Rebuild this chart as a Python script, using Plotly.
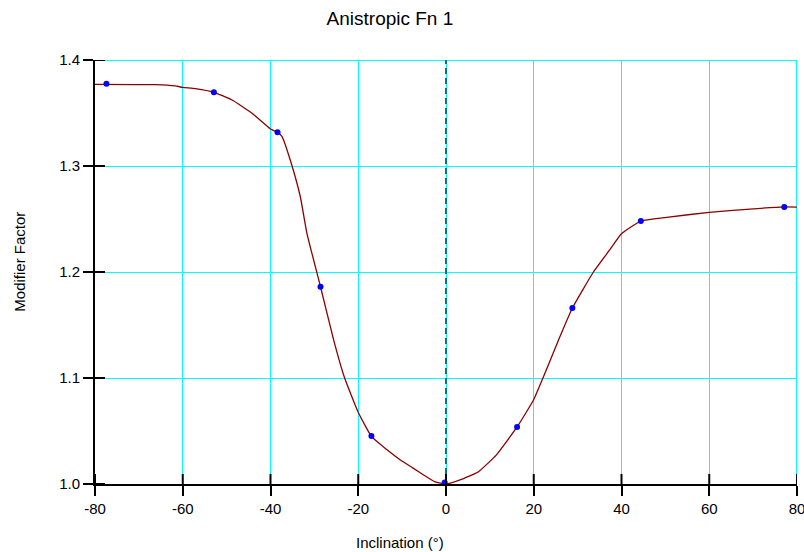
import plotly.graph_objects as go

# Measured data points (blue markers)
point_x = [-77.4, -52.9, -38.4, -28.6, -17.0, -0.3, 16.2, 28.8, 44.4, 77.1]
point_y = [1.3776, 1.3695, 1.3318, 1.1861, 1.0452, 1.0015, 1.0538, 1.1660, 1.2481, 1.2614]

# Fitted curve
curve_x = [-80, -66.2, -61.7, -60, -57.1, -52.9, -48.75, -44.2, -40.0, -38.4, -37.4,
           -35.5, -33.2, -31.7, -28.6, -25.6, -23.1, -19.9, -17.0, -13.5, -10.4, -7.5, -5.1, -2.5,
           0, 3.2, 7.4, 11.5, 16.2, 19.95, 22.1, 25.65, 28.8, 33.6, 37.3, 40, 44.4,
           50.3, 60, 69.3, 77.1, 80]
curve_y = [1.377, 1.3767, 1.3755, 1.3742, 1.373, 1.3695, 1.3623, 1.3497, 1.3349, 1.3318, 1.328,
           1.3057, 1.271, 1.2365, 1.1861, 1.1358, 1.1, 1.0667, 1.045, 1.0325, 1.0226, 1.015, 1.0085, 1.002,
           1.0, 1.0038, 1.0116, 1.0275, 1.0538, 1.0792, 1.1, 1.1358, 1.166, 1.2, 1.2208, 1.236, 1.2481,
           1.2516, 1.2563, 1.2594, 1.2614, 1.2612]

x_ticks = [-80, -60, -40, -20, 0, 20, 40, 60, 80]
x_tick_text = ["-80", "-60", "-40", "-20", "0", "20", "40", "60", "80"]
y_ticks = [1.0, 1.1, 1.2, 1.3, 1.4]
y_tick_text = ["1.0", "1.1", "1.2", "1.3", "1.4"]

FONT = "Liberation Sans, Arial, sans-serif"

fig = go.Figure()
fig.add_trace(go.Scatter(x=curve_x, y=curve_y, mode="lines",
                         line=dict(color="#8B0000", width=1.3, shape="spline", smoothing=0.4),
                         showlegend=False, hoverinfo="skip"))
fig.add_trace(go.Scatter(x=point_x, y=point_y, mode="markers",
                         marker=dict(color="#0000FF", size=6),
                         showlegend=False))

shapes = []
# cyan top and right grid borders
shapes.append(dict(type="line", xref="paper", yref="y", x0=0, x1=1, y0=y_ticks[-1], y1=y_ticks[-1],
                   line=dict(color="#00FFFF", width=2), layer="below"))
shapes.append(dict(type="line", xref="x", yref="paper", x0=x_ticks[-1], x1=x_ticks[-1], y0=0, y1=1,
                   line=dict(color="#00FFFF", width=2), layer="below"))
# zero dashed line
shapes.append(dict(type="line", xref="x", yref="y", x0=0, x1=0, y0=y_ticks[0], y1=y_ticks[-1],
                   line=dict(color="#007878", width=2, dash="6px,4px"), layer="above"))
# inside halves of the crossing ticks
for xv in x_ticks:
    shapes.append(dict(type="line", xref="x", yref="paper", ysizemode="pixel", yanchor=0,
                       x0=xv, x1=xv, y0=0, y1=10, line=dict(color="black", width=2), layer="above"))
for yv in y_ticks:
    shapes.append(dict(type="line", xref="paper", yref="y", xsizemode="pixel", xanchor=0,
                       x0=0, x1=10, y0=yv, y1=yv, line=dict(color="black", width=2), layer="above"))

annotations = [
    dict(text="Inclination (°)", xref="paper", yref="paper", x=0.4345, y=-0.137,
         xanchor="center", yanchor="middle", showarrow=False, font=dict(size=15)),
    dict(text="Modifier Factor", xref="paper", yref="paper", x=-0.107, y=0.524,
         xanchor="center", yanchor="middle", textangle=-90, showarrow=False, font=dict(size=15)),
]

fig.update_layout(
    width=804, height=552,
    margin=dict(l=95, r=7, t=60, b=68, autoexpand=False),
    paper_bgcolor="white", plot_bgcolor="white",
    font=dict(family=FONT, color="black", size=15),
    title=dict(text="Anistropic Fn 1", x=0.485, xanchor="center", y=0.967, yanchor="middle",
               font=dict(family=FONT, size=19, color="black")),
    shapes=shapes,
    annotations=annotations,
    xaxis=dict(range=[-80, 80], tickvals=x_ticks, ticktext=x_tick_text, ticks="outside", ticklen=10,
               tickwidth=2, tickcolor="black", showline=True, linecolor="black", linewidth=2,
               showgrid=True, gridcolor="#00FFFF", gridwidth=1, zeroline=False, automargin=False,
               ticklabeloverflow="allow", tickfont=dict(size=15)),
    yaxis=dict(range=[1.0, 1.4], tickvals=y_ticks, ticktext=y_tick_text, ticks="outside",
               ticklen=10, tickwidth=2, tickcolor="black", showline=True, linecolor="black",
               linewidth=2, showgrid=True, gridcolor="#00FFFF", gridwidth=1, zeroline=False,
               automargin=False, ticklabeloverflow="allow", tickfont=dict(size=15)),
)

fig.write_html("out.html")
